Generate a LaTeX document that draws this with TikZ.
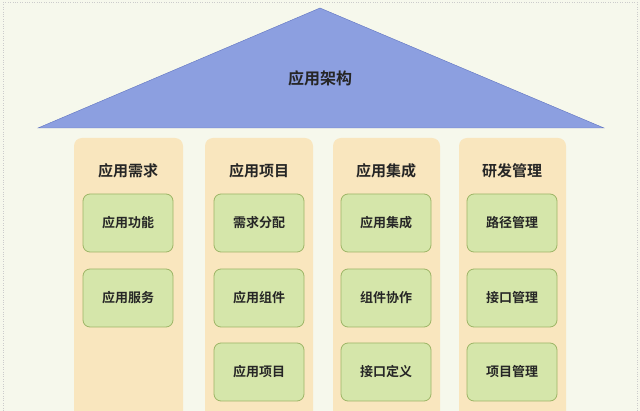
\documentclass[tikz,border=0pt]{standalone}
\usepackage{fontspec}
\newfontfamily\cjk{Noto Sans CJK SC}[BoldFont={* Bold}]
\definecolor{bg}{HTML}{F6F8EC}
\definecolor{tri}{HTML}{8C9FE0}
\definecolor{trib}{HTML}{5F73C0}
\definecolor{col}{HTML}{F9E6BE}
\definecolor{gf}{HTML}{D5E6AA}
\definecolor{gb}{HTML}{9DB566}
\begin{document}
\begin{tikzpicture}[x=1pt,y=-1pt,
  colbox/.style={fill=col,rounded corners=8pt},
  item/.style={draw=gb,fill=gf,rounded corners=7pt,line width=0.8pt,minimum width=90pt,minimum height=58pt,font=\cjk\bfseries\fontsize{13}{15}\selectfont,text=black!85},
  head/.style={font=\cjk\bfseries\fontsize{15}{18}\selectfont,text=black!85}]
\useasboundingbox (0,0) rectangle (640,411);
\fill[bg] (0,0) rectangle (640,411);
\draw[gray!40,dotted] (3,2) -- (3,411);
\draw[gray!40,dotted] (637,2) -- (637,411);
\draw[gray!40,dotted] (3,2) -- (637,2);
\fill[tri,draw=trib,line width=0.4pt] (38,128) -- (320,8) -- (604,128) -- cycle;
\node[head,font=\cjk\bfseries\fontsize{16}{19}\selectfont] (title) at (320,78) {应用架构};
\fill[colbox] (74,138) rectangle (183,420);
\fill[colbox] (205,138) rectangle (313,420);
\fill[colbox] (333,138) rectangle (440,420);
\fill[colbox] (459,138) rectangle (566,420);
\node[head] (h1) at (128,171) {应用需求};
\node[head] (h2) at (259,171) {应用项目};
\node[head] (h3) at (386,171) {应用集成};
\node[head] (h4) at (512,171) {研发管理};
\node[item] (a1) at (128,223) {应用功能};
\node[item] (a2) at (128,298) {应用服务};
\node[item] (b1) at (259,223) {需求分配};
\node[item] (b2) at (259,298) {应用组件};
\node[item] (b3) at (259,372) {应用项目};
\node[item] (c1) at (386,223) {应用集成};
\node[item] (c2) at (386,298) {组件协作};
\node[item] (c3) at (386,372) {接口定义};
\node[item] (d1) at (512,223) {路径管理};
\node[item] (d2) at (512,298) {接口管理};
\node[item] (d3) at (512,372) {项目管理};
\end{tikzpicture}
\end{document}
